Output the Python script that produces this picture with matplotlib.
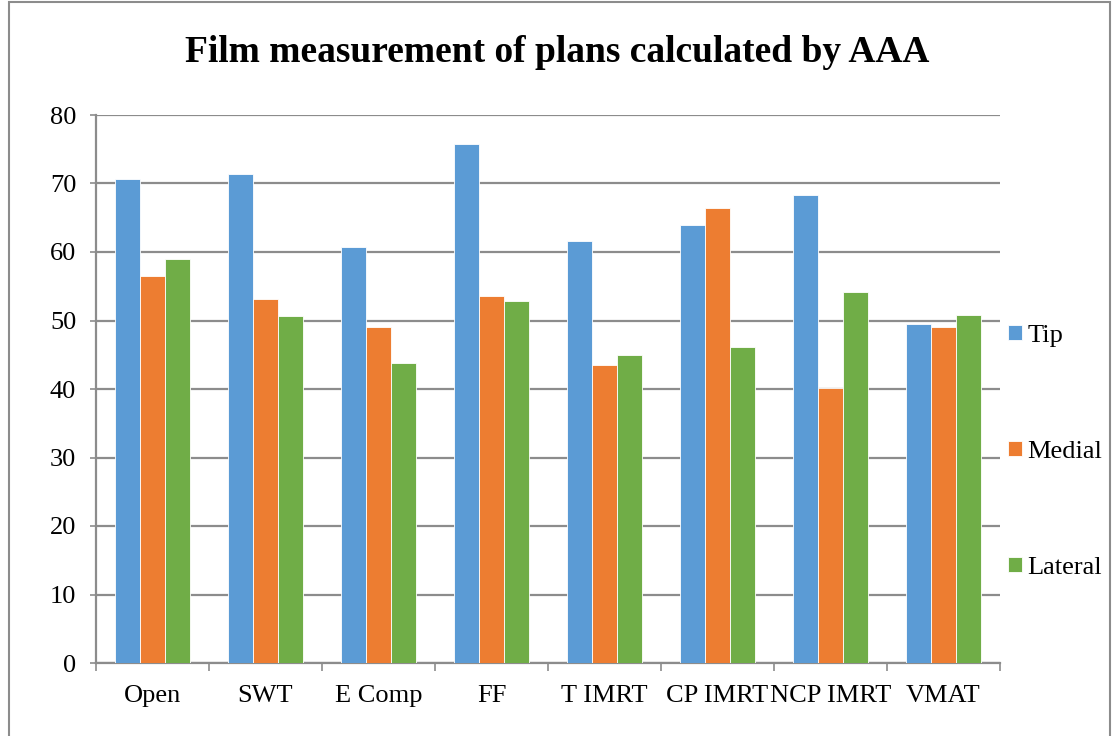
import matplotlib
matplotlib.use("Agg")
import matplotlib.pyplot as plt
import numpy as np
from matplotlib.patches import Rectangle

plans = ["Open", "SWT", "E Comp", "FF", "T IMRT", "CP IMRT", "NCP IMRT", "VMAT"]
tip = [70.7, 71.4, 60.8, 75.7, 61.6, 64.0, 68.3, 49.5]
medial = [56.5, 53.1, 49.05, 53.6, 43.5, 66.4, 40.1, 49.05]
lateral = [59.0, 50.7, 43.8, 52.9, 45.0, 46.2, 54.1, 50.85]
series_names = ["Tip", "Medial", "Lateral"]
colors = ["#5B9BD5", "#ED7D31", "#70AD47"]
y_ticks = [0, 10, 20, 30, 40, 50, 60, 70, 80]

plt.rcParams["font.family"] = ["Liberation Serif", "DejaVu Serif"]

W, H = 1114, 736
fig = plt.figure(figsize=(W / 100, H / 100), dpi=100)
ax = fig.add_axes([96 / W, 73 / H, 904 / W, 548 / H])

x = np.arange(len(plans))
w = 0.22
for i, (vals, name, c) in enumerate(zip([tip, medial, lateral], series_names, colors)):
    ax.bar(x + (i - 1) * w, vals, width=w, color=c, edgecolor="white",
           linewidth=0.6, label=name, zorder=3)

ax.set_xlim(-0.5, len(plans) - 0.5)
ax.set_ylim(0, 80)
ax.set_yticks(y_ticks)
ax.yaxis.grid(True, color="#8c8c8c", linewidth=1.6, zorder=0)
ax.set_axisbelow(True)

ax.set_xticks(x)
ax.set_xticklabels(plans, fontsize=19)
ax.set_xticks(np.arange(-0.5, len(plans), 1.0), minor=True)
ax.tick_params(axis="x", which="major", length=0, pad=15.5)
ax.tick_params(axis="x", which="minor", length=6, width=1.2, color="#8c8c8c", direction="out")
ax.tick_params(axis="y", labelsize=19, length=4.3, width=1.2, color="#8c8c8c", pad=10)

for side in ["top", "right"]:
    ax.spines[side].set_visible(False)
for side in ["left", "bottom"]:
    ax.spines[side].set_color("#8c8c8c")
    ax.spines[side].set_linewidth(1.6)

fig.text(0.5, 1 - 52 / H, "Film measurement of plans calculated by AAA",
         ha="center", va="center", fontsize=27, fontweight="bold")

leg = ax.legend(loc="center left", bbox_to_anchor=(1008 / W, 1 - 452 / H),
                bbox_transform=fig.transFigure, frameon=False,
                fontsize=19, labelspacing=3.55, handlelength=0.53, handleheight=0.5,
                handletextpad=0.2, borderaxespad=0, borderpad=0)

fig.patches.append(Rectangle((9 / W, -0.01), 1101 / W, 1.0 - 2 / H + 0.01,
                             transform=fig.transFigure, fill=False,
                             edgecolor="#8c8c8c", linewidth=1.5))

fig.savefig("out.png", dpi=100)
